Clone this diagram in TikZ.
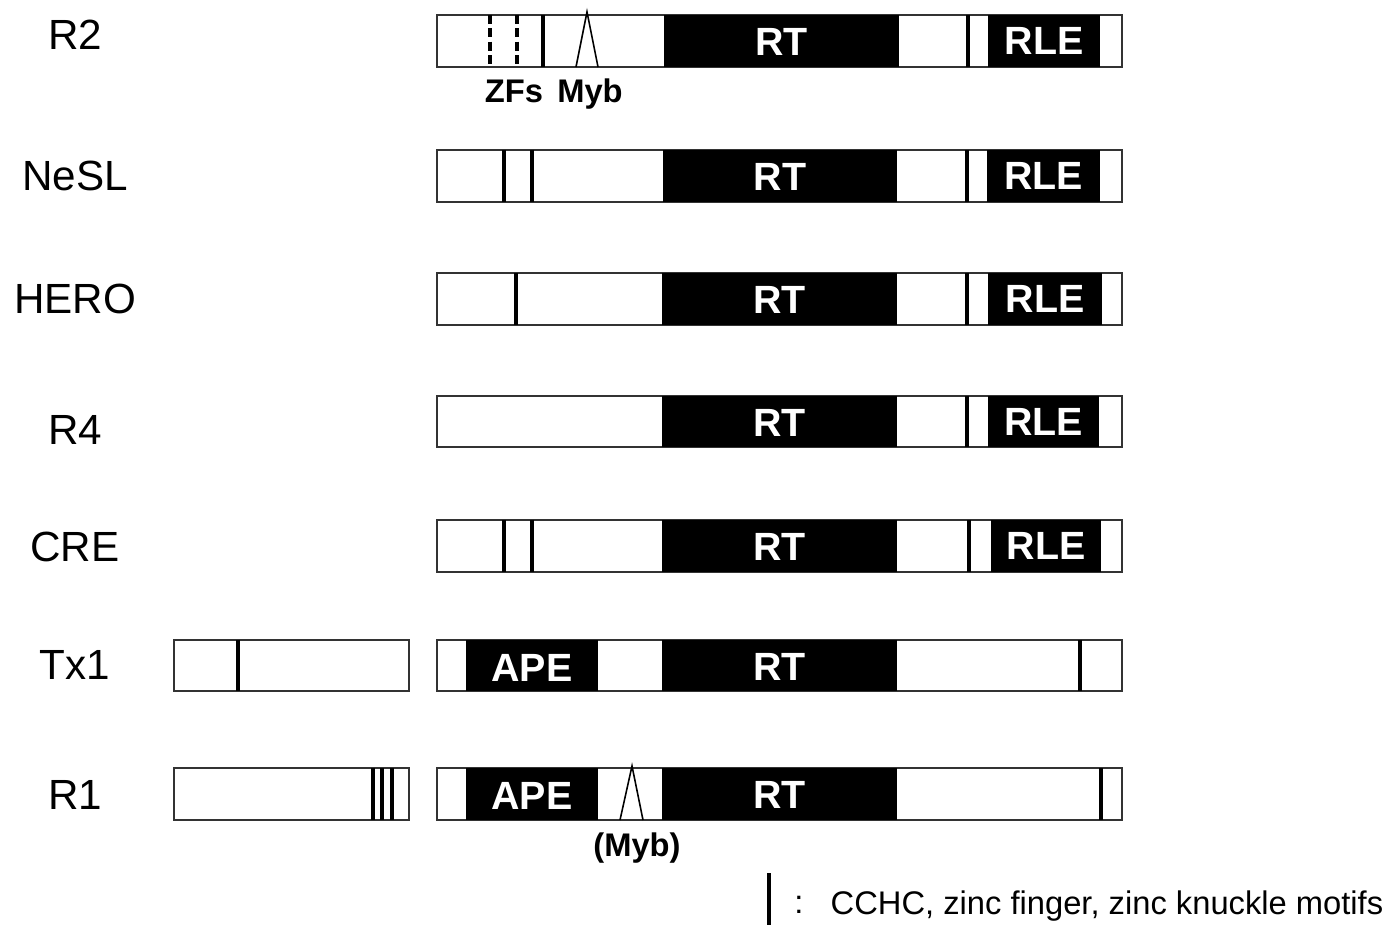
\documentclass[tikz,border=0pt]{standalone}
\usepackage{fontspec}
\setmainfont{Liberation Sans}
\tikzset{
  gene/.style={draw=black!80, line width=0.6pt, fill=white},
  dom/.style={text=white, font=\fontsize{11.2}{13}\selectfont\bfseries},
  motif/.style={line width=1.25pt},
  rowname/.style={font=\fontsize{12}{14}\selectfont},
  tag/.style={font=\fontsize{9.3}{11}\selectfont\bfseries, anchor=base}
}
\begin{document}
\begin{tikzpicture}[x=0.01cm, y=-0.01cm]
  \useasboundingbox (0,0) rectangle (1394,934);

  %row names
  \foreach \n/\y in {R2/35, NeSL/176, HERO/299, R4/430, CRE/547, Tx1/665, R1/795}
    \node[rowname] (\n) at (75,\y) {\n};

  %protein boxes
  \foreach \t/\b in {15/67, 150/202, 273/325, 396/447, 520/572, 640/691, 768/820}
    \draw[gene] (437,\t) rectangle (1122,\b);
  \draw[gene] (174,640) rectangle (409,691);
  \draw[gene] (174,768) rectangle (409,820);

  %RT domain
  \foreach \t/\b/\l/\r [count=\i] in {15/67/664/899, 150/202/663/897, 273/325/662/897,
      396/447/662/897, 520/572/662/897, 640/691/662/897, 768/820/662/897}
  {
    \fill (\l,\t) rectangle (\r,\b);
    \node[dom] (rt\i) at ({(\l+\r)/2},{(\t+\b)/2+1}) {RT};
  }

  %RLE domain
  \foreach \t/\b/\l/\r/\m [count=\i] in {15/67/988/1100/968, 150/202/987/1100/967,
      273/325/988/1102/967, 396/447/988/1099/967, 520/572/991/1101/969}
  {
    \fill (\l,\t) rectangle (\r,\b);
    \node[dom] (rle\i) at ({(\l+\r)/2},{(\t+\b)/2}) {RLE};
    \draw[motif] (\m,\t) -- (\m,\b);
  }

  %APE domain
  \foreach \t/\b [count=\i] in {640/691, 768/820}
  {
    \fill (466,\t) rectangle (598,\b);
    \node[dom] (ape\i) at (532,{(\t+\b)/2+2}) {APE};
  }

  % zinc finger motifs
  \draw[motif, dash pattern=on 2.6pt off 1.2pt] (490,15) -- (490,67);
  \draw[motif, dash pattern=on 2.6pt off 1.2pt] (517,15) -- (517,67);
  \foreach \x/\t/\b in {543/15/67, 504/150/202, 532/150/202, 516/273/325, 504/520/572,
      532/520/572, 238/640/691, 1080/640/691, 1101/768/820}
    \draw[motif] (\x,\t) -- (\x,\b);
  \foreach \x in {373,382,392}
    \draw[line width=1pt] (\x,768) -- (\x,820);

  %Myb
  \draw[line width=0.45pt] (576,67) -- (587,12) -- (598,67);
  \draw[line width=0.45pt] (620,820) -- (632,766) -- (643,820);
  \node[tag] (zfs) at (514,103) {ZFs};
  \node[tag] (myb) at (590,103) {Myb};
  \node[tag] (mybR1) at (637,856) {(Myb)};

  %legend
  \draw[line width=1.3pt] (769,873) -- (769,925);
  \node[font=\fontsize{9.3}{11}\selectfont] (colon) at (799,905) {:};
  \node[anchor=base west, inner sep=0pt, font=\fontsize{9.3}{11}\selectfont] (key) at (830,914)
    {CCHC, zinc finger, zinc knuckle motifs};
\end{tikzpicture}
\end{document}
